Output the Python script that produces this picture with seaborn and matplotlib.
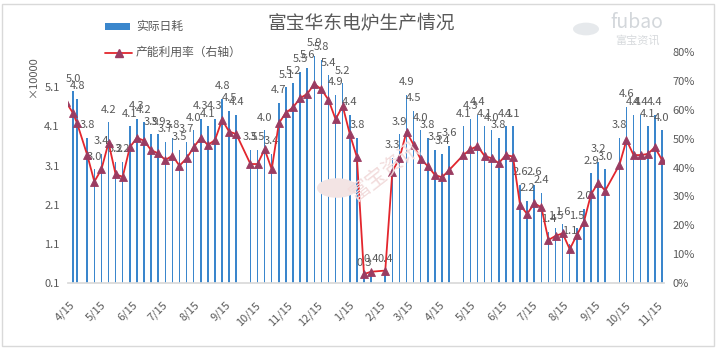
import matplotlib
matplotlib.use('Agg')
import matplotlib.pyplot as plt
import matplotlib.dates as mdates
from matplotlib.patches import Rectangle, Circle
from matplotlib.lines import Line2D
from matplotlib.ticker import FuncFormatter, FixedLocator
import seaborn as sns
import pandas as pd

# ---------------- data ----------------
dates = [
    "2021-04-18", "2021-04-22", "2021-05-02", "2021-05-09", "2021-05-16", "2021-05-23",
    "2021-05-30", "2021-06-06", "2021-06-13", "2021-06-20", "2021-06-27", "2021-07-04",
    "2021-07-11", "2021-07-18", "2021-07-25", "2021-08-01", "2021-08-08", "2021-08-15",
    "2021-08-22", "2021-08-29", "2021-09-05", "2021-09-12", "2021-09-19", "2021-09-26",
    "2021-10-10", "2021-10-17", "2021-10-24", "2021-10-31", "2021-11-07", "2021-11-14",
    "2021-11-21", "2021-11-28", "2021-12-05", "2021-12-12", "2021-12-19", "2021-12-26",
    "2022-01-02", "2022-01-09", "2022-01-16", "2022-01-23", "2022-01-30", "2022-02-06",
    "2022-02-20", "2022-02-27", "2022-03-06", "2022-03-13", "2022-03-20", "2022-03-27",
    "2022-04-03", "2022-04-10", "2022-04-17", "2022-04-24",
    "2022-05-08", "2022-05-15", "2022-05-22", "2022-05-29", "2022-06-05", "2022-06-12",
    "2022-06-19", "2022-06-26", "2022-07-03", "2022-07-10", "2022-07-17", "2022-07-24",
    "2022-07-31", "2022-08-07", "2022-08-14", "2022-08-21", "2022-08-28", "2022-09-04",
    "2022-09-11", "2022-09-18", "2022-09-25",
    "2022-10-09", "2022-10-16", "2022-10-23", "2022-10-30", "2022-11-06", "2022-11-13",
    "2022-11-20",
]
daily_use = [
    5.0, 4.8, 3.8, 3.0, 3.4, 4.2, 3.2, 3.2, 4.1, 4.3, 4.2, 3.9,
    3.9, 3.7, 3.8, 3.5, 3.7, 4.0, 4.3, 4.1, 4.3, 4.8, 4.5, 4.4,
    3.5, 3.5, 4.0, 3.4, 4.7, 5.1, 5.2, 5.5, 5.6, 5.9, 5.8, 5.4,
    4.9, 5.2, 4.4, 3.8, 0.3, 0.4,
    0.4, 3.3, 3.9, 4.9, 4.5, 4.0, 3.8, 3.5, 3.4, 3.6,
    4.1, 4.3, 4.4, 4.1, 4.0, 3.8, 4.1, 4.1, 2.6, 2.2, 2.6, 2.4,
    1.4, 1.5, 1.6, 1.1, 1.5, 2.0, 2.9, 3.2, 3.0,
    3.8, 4.6, 4.4, 4.4, 4.1, 4.4, 4.0,
]
util_rate = [
    58.8, 55.3, 44.3, 35.1, 39.4, 48.6, 37.6, 36.8, 47.0, 50.3, 49.3, 46.0,
    44.9, 42.6, 44.1, 40.6, 43.2, 47.0, 50.3, 47.8, 49.5, 56.5, 52.4, 51.6,
    41.2, 41.2, 46.3, 39.4, 55.3, 59.0, 60.8, 64.0, 65.5, 68.9, 67.1, 63.4,
    56.7, 61.3, 51.6, 43.6, 3.1, 3.9,
    4.3, 38.6, 43.2, 52.4, 47.8, 42.8, 40.5, 37.4, 36.6, 39.1,
    44.3, 46.3, 47.4, 44.0, 43.2, 41.5, 44.3, 43.8, 27.0, 23.9, 27.6, 26.2,
    14.9, 16.3, 17.2, 11.7, 16.6, 21.2, 30.7, 34.7, 32.0,
    40.9, 49.5, 44.3, 44.3, 44.7, 47.0, 42.6,
]
# week before the first shown bar (only its line stub is visible at the left edge)
lead_date = "2021-04-11"
lead_rate = 62.7

title = "富宝华东电炉生产情况"
bar_name = "实际日耗"
line_name = "产能利用率（右轴）"
unit_label = "×10000"
left_ticks = [0.1, 1.1, 2.1, 3.1, 4.1, 5.1]
right_ticks = [0, 10, 20, 30, 40, 50, 60, 70, 80]

# ---------------- style ----------------
sns.set_theme(style="white")
plt.rcParams['font.family'] = ['Noto Sans CJK SC', 'DejaVu Sans']
GRAY = "#595959"
BAR_C = "#3a86cc"
LINE_C = "#e3262d"
MARK_C = "#9a3c62"

df = pd.DataFrame({"date": pd.to_datetime(dates), "use": daily_use, "rate": util_rate})
line_df = pd.concat([pd.DataFrame({"date": pd.to_datetime([lead_date]), "rate": [lead_rate]}),
                     df[["date", "rate"]]], ignore_index=True)

fig = plt.figure(figsize=(7.2, 3.52), dpi=100)
ax = fig.add_axes([68 / 720, 1 - 283 / 352, (664 - 68) / 720, (283 - 52) / 352])
ax2 = ax.twinx()

# bars
xnum = mdates.date2num(df["date"])
ax.bar(xnum, df["use"], width=1.5, color=BAR_C, linewidth=0, zorder=2)
for x, v in zip(xnum, df["use"]):
    ax.annotate(f"{v:.1f}", (x, v), xytext=(0, 5.5), textcoords="offset points",
                ha="center", va="bottom", fontsize=8, color=GRAY, zorder=3)

# line
sns.lineplot(data=line_df, x="date", y="rate", ax=ax2, color=LINE_C, linewidth=1.3,
             marker="^", markersize=5.5, markerfacecolor=MARK_C, markeredgecolor=MARK_C,
             markeredgewidth=0.6, legend=False)

# axes ranges
xmin, xmax = pd.Timestamp("2021-04-13"), pd.Timestamp("2022-11-22")
ax.set_xlim(xmin, xmax)
ax2.set_xlim(xmin, xmax)
ax.set_ylim(0.1, 6.0)
ax2.set_ylim(0, 80)

ax.yaxis.set_major_locator(FixedLocator(left_ticks))
ax.yaxis.set_major_formatter(FuncFormatter(lambda v, p: f"{v:.1f}"))
ax2.yaxis.set_major_locator(FixedLocator(right_ticks))
ax2.yaxis.set_major_formatter(FuncFormatter(lambda v, p: f"{v:.0f}%"))

ax.xaxis.set_major_locator(mdates.MonthLocator(bymonthday=15))
ax.xaxis.set_major_formatter(FuncFormatter(lambda v, p: f"{mdates.num2date(v).month}/{mdates.num2date(v).day}"))
ax.tick_params(axis="x", length=4, width=0.8, color="#bfbfbf", labelsize=8, labelcolor=GRAY, pad=8)
plt.setp(ax.get_xticklabels(), rotation=45, ha="right", rotation_mode="anchor")
ax.tick_params(axis="y", length=0, labelsize=8, labelcolor=GRAY, pad=6)
ax2.tick_params(axis="y", length=0, labelsize=8, labelcolor=GRAY, pad=6)
ax2.set_xlabel("")
ax2.set_ylabel("")
ax.set_xlabel("")
ax.set_ylabel("")

for a in (ax, ax2):
    for s in ("top", "left", "right"):
        a.spines[s].set_visible(False)
    a.spines["bottom"].set_color("#d9d9d9")
    a.grid(False)
ax2.spines["bottom"].set_visible(False)

# title, unit, legend
fig.text(361 / 720, 1 - 24 / 352, title, ha="center", va="center", fontsize=13.5, color=GRAY)
fig.text(33 / 720, 1 - 77 / 352, unit_label, rotation=90, ha="center", va="center", fontsize=8, color=GRAY)

fig.add_artist(Rectangle((105 / 720, 1 - 30 / 352), 25 / 720, 7 / 352, transform=fig.transFigure,
                         facecolor=BAR_C, edgecolor="none"))
fig.text(136 / 720, 1 - 26.5 / 352, bar_name, ha="left", va="center", fontsize=8.5, color=GRAY)
fig.add_artist(Line2D([105 / 720, 132 / 720], [1 - 52.5 / 352, 1 - 52.5 / 352], transform=fig.transFigure,
                      color=LINE_C, linewidth=1.3))
fig.add_artist(Line2D([118.5 / 720], [1 - 52.5 / 352], transform=fig.transFigure, marker="^",
                      markersize=5.5, markerfacecolor=MARK_C, markeredgecolor=MARK_C, linestyle="none"))
fig.text(136 / 720, 1 - 52.5 / 352, line_name, ha="left", va="center", fontsize=8.5, color=GRAY)

# watermarks
fig.add_artist(Circle((586 / 720, 1 - 29 / 352), 13 / 720, transform=fig.transFigure,
                      facecolor="#e6e9ec", edgecolor="none"))
fig.text(637 / 720, 1 - 22 / 352, "fubao", ha="center", va="center", fontsize=14, color="#d3d7db")
fig.text(637 / 720, 1 - 40 / 352, "富宝资讯", ha="center", va="center", fontsize=8, color="#d7dadd")
fig.add_artist(Circle((337 / 720, 1 - 188 / 352), 20 / 720, transform=fig.transFigure,
                      facecolor="#f3e4e4", edgecolor="none", zorder=0.5))
fig.text(385 / 720, 1 - 172 / 352, "富宝资讯", rotation=38, ha="center", va="center",
         fontsize=15, color="#f2dcdc", zorder=0.5)

# outer frame
fig.add_artist(Rectangle((1.5 / 720, 1 - 346 / 352), 712 / 720, 342 / 352, transform=fig.transFigure,
                         facecolor="none", edgecolor="#d9d9d9", linewidth=1))

fig.savefig("out.png", dpi=100)
